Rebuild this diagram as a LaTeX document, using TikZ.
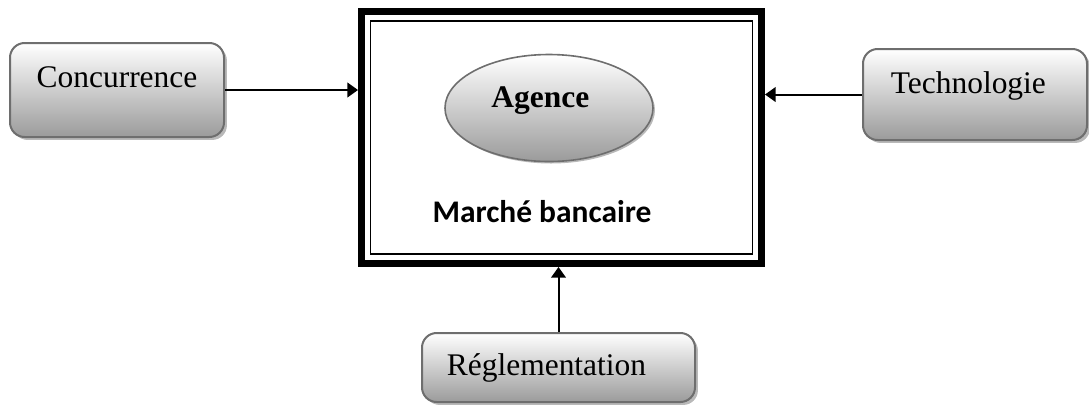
\documentclass[tikz,border=0pt]{standalone}
\usepackage{fontspec}
\setmainfont{Liberation Serif}
\newfontfamily\calibri{Carlito}
\usepackage{tikz}
\usetikzlibrary{arrows.meta}
\usetikzlibrary{shadows}
\usetikzlibrary{shapes}

\definecolor{bordgris}{RGB}{110,110,110}
\definecolor{fondgris}{RGB}{155,155,155}
\definecolor{ombre}{RGB}{185,185,185}

\tikzset{
  boite/.style={draw=bordgris, line width=1.5pt, rounded corners=11pt, top color=white, bottom color=fondgris,
    drop shadow={shadow xshift=2.2pt, shadow yshift=-2.2pt, fill=ombre, opacity=1},
    inner sep=0pt, text height=15pt, font=\fontsize{23.6}{28}\selectfont},
  bulle/.style={ellipse, draw=bordgris, line width=1.2pt, top color=white, bottom color=fondgris,
    drop shadow={shadow xshift=1.5pt, shadow yshift=-1.5pt, fill=ombre, opacity=1},
    inner sep=0pt, text height=15pt, font=\fontsize{23.6}{28}\selectfont\bfseries},
  fleche/.style={line width=1.5pt, -{Triangle[length=8pt,width=11pt]}},
}

\begin{document}
\begin{tikzpicture}[x=0.75pt,y=0.75pt,yscale=-1,xscale=1]
\useasboundingbox (0,0) rectangle (1089,405);

% cadre central
\node[draw, line width=5.25pt, minimum width=300pt, minimum height=189pt, inner sep=0pt] (marche) at (561.5,137.5) {};
\node[draw, line width=1.1pt, minimum width=286.5pt, minimum height=174.75pt, inner sep=0pt] (cadre) at (marche.center) {};
\node[bulle, minimum width=156pt, minimum height=80.25pt, text depth=16.5pt] (agence) at (549,108) {Agence\hspace*{13pt}};
\node[anchor=base, font=\calibri\bfseries\fontsize{23.6}{28}\selectfont] (marchetxt) at (542,222) {Marché bancaire};

% facteurs externes
\node[boite, minimum width=160.5pt, minimum height=70.5pt, text depth=19.5pt] (conc) at (117,90) {Concurrence};
\node[boite, minimum width=168pt, minimum height=68.25pt, text depth=17.25pt] (tech) at (975,94.5) {Technologie\hspace*{10pt}};
\node[boite, minimum width=204.75pt, minimum height=51.75pt, text depth=3.75pt] (regl) at (558.5,367.5) {Réglementation\hspace*{18pt}};

\draw[fleche] (conc.east) -- (conc.east -| marche.west);
\draw[fleche] (tech.west) -- (tech.west -| marche.east);
\draw[fleche] (regl.north) -- (regl.north |- marche.south);

\end{tikzpicture}
\end{document}
